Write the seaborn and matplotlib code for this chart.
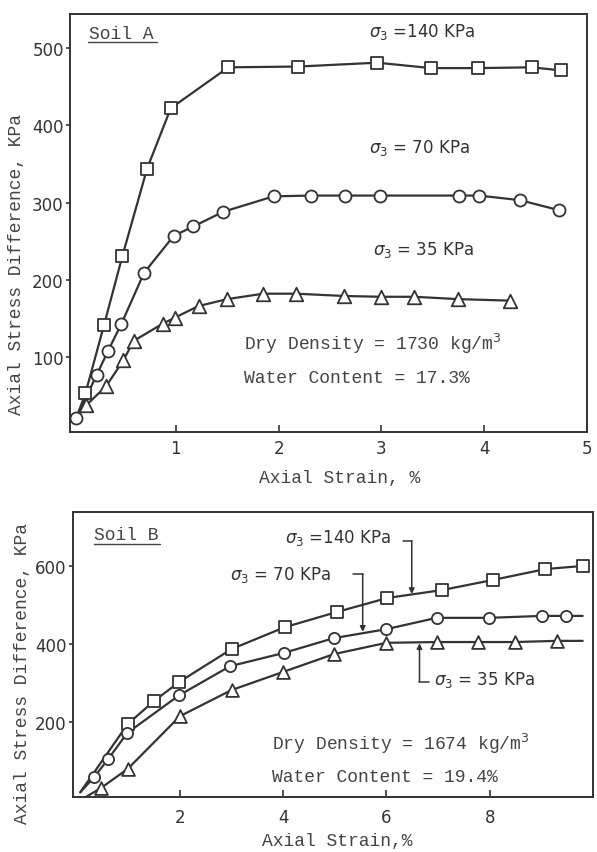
import seaborn as sns
import matplotlib.pyplot as plt
import pandas as pd

# ---- Soil A (top panel) ----
a_start = [0.03, 21]
a_x_140 = [0.12, 0.30, 0.48, 0.72, 0.95, 1.51, 2.19, 2.96, 3.48, 3.94, 4.46, 4.75]
a_y_140 = [53, 141, 231, 344, 422, 475, 476, 481, 474, 474, 475, 471]
a_x_70 = [0.03, 0.23, 0.34, 0.47, 0.69, 0.98, 1.17, 1.46, 1.95, 2.31, 2.65, 2.99, 3.75, 3.95, 4.35, 4.73]
a_y_70 = [21, 77, 108, 143, 209, 257, 269, 288, 308, 309, 309, 309, 309, 309, 303, 290]
a_x_35 = [0.13, 0.32, 0.49, 0.59, 0.87, 0.99, 1.22, 1.50, 1.85, 2.17, 2.64, 3.00, 3.32, 3.74, 4.25]
a_y_35 = [38, 62, 96, 121, 143, 151, 166, 175, 182, 182, 179, 178, 178, 175, 173]

# ---- Soil B (bottom panel) ----
b_start_140 = [0.07, 20]
b_start_70 = [0.07, 20]
b_start_35 = [0.18, 8]
b_end_70 = [9.8, 472]
b_end_35 = [9.8, 408]
b_x_140 = [0.99, 1.50, 1.99, 3.00, 4.03, 5.04, 6.02, 7.07, 8.06, 9.08, 9.80]
b_y_140 = [195, 254, 303, 387, 443, 482, 518, 538, 564, 592, 600]
b_x_70 = [0.34, 0.61, 0.98, 1.99, 2.97, 4.01, 4.98, 6.00, 6.97, 7.98, 9.02, 9.47]
b_y_70 = [59, 105, 172, 269, 343, 377, 415, 438, 467, 467, 472, 472]
b_x_35 = [0.47, 0.99, 2.00, 3.00, 3.99, 4.98, 6.00, 6.97, 7.78, 8.48, 9.30]
b_y_35 = [31, 80, 215, 282, 328, 374, 403, 405, 405, 405, 408]

a_xticks = [1, 2, 3, 4, 5]
a_yticks = [100, 200, 300, 400, 500]
b_xticks = [2, 4, 6, 8]
b_yticks = [200, 400, 600]

INK = "#333333"
TXT = "#444444"
MONO = ["Liberation Mono", "DejaVu Sans Mono"]
SANS = ["DejaVu Sans"]

sns.set_theme(style="ticks")
plt.rcParams["font.family"] = ["DejaVu Sans"]
plt.rcParams["mathtext.fontset"] = "dejavusans"

fig = plt.figure(figsize=(5.97, 8.53), dpi=100)
ax_a = fig.add_axes([0.1173, 0.4924, 0.866, 0.490])
ax_b = fig.add_axes([0.1223, 0.0645, 0.871, 0.334])


def draw_curve(ax, xs, ys, marker, size, pre=None, post=None):
    lx = ([pre[0]] if pre else []) + list(xs) + ([post[0]] if post else [])
    ly = ([pre[1]] if pre else []) + list(ys) + ([post[1]] if post else [])
    line_df = pd.DataFrame({"x": lx, "y": ly})
    sns.lineplot(data=line_df, x="x", y="y", ax=ax, color=INK, linewidth=1.6,
                 estimator=None, sort=False, zorder=2)
    pts = pd.DataFrame({"x": xs, "y": ys})
    sns.scatterplot(data=pts, x="x", y="y", ax=ax, marker=marker, s=size,
                    facecolor="white", edgecolor=INK, linewidth=1.3, zorder=3)


def style_axes(ax, xlim, ylim, xticks, yticks, xpad):
    ax.set_xlim(*xlim)
    ax.set_ylim(*ylim)
    ax.set_xticks(xticks)
    ax.set_yticks(yticks)
    ax.set_xlabel("")
    ax.set_ylabel("")
    for sp in ax.spines.values():
        sp.set_visible(True)
        sp.set_color(INK)
        sp.set_linewidth(1.4)
    ax.tick_params(axis="x", direction="in", length=5, width=1.2, color=INK,
                   pad=xpad, labelsize=12, labelcolor=INK)
    ax.tick_params(axis="y", direction="out", length=3, width=1.2, color=INK,
                   pad=1.5, labelsize=12, labelcolor=INK)
    ax.set_facecolor("white")


# ---- top panel ----
draw_curve(ax_a, a_x_140, a_y_140, "s", 85, pre=a_start)
draw_curve(ax_a, a_x_70, a_y_70, "o", 75)
draw_curve(ax_a, a_x_35, a_y_35, "^", 95, pre=a_start)
style_axes(ax_a, (-0.03, 5.0), (3, 544), a_xticks, a_yticks, 5)

ax_a.text(0.155, 513, "Soil A", family=MONO, fontsize=13, color=TXT)
ax_a.plot([0.035, 0.168], [0.933, 0.933], transform=ax_a.transAxes, color=TXT, lw=1.0)
ax_a.text(2.88, 515, r"$\sigma_3$ =140 KPa", family=SANS, fontsize=12, color=INK)
ax_a.text(2.88, 365, r"$\sigma_3$ = 70 KPa", family=SANS, fontsize=12, color=INK)
ax_a.text(2.92, 233, r"$\sigma_3$ = 35 KPa", family=SANS, fontsize=12, color=INK)
ax_a.text(1.66, 110, r"Dry Density = 1730 kg/m$^3$", family=MONO, fontsize=13, color=TXT)
ax_a.text(1.66, 68, "Water Content = 17.3%", family=MONO, fontsize=13, color=TXT)

# ---- bottom panel ----
draw_curve(ax_b, b_x_140, b_y_140, "s", 65, pre=b_start_140)
draw_curve(ax_b, b_x_70, b_y_70, "o", 65, pre=b_start_70, post=b_end_70)
draw_curve(ax_b, b_x_35, b_y_35, "^", 85, pre=b_start_35, post=b_end_35)
style_axes(ax_b, (-0.07, 10.0), (8, 738), b_xticks, b_yticks, 8)

ax_b.text(0.34, 669, "Soil B", family=MONO, fontsize=13, color=TXT)
ax_b.plot([0.040, 0.167], [0.888, 0.888], transform=ax_b.transAxes, color=TXT, lw=1.0)

arrow = dict(arrowstyle="-|>", color=INK, lw=1.1, shrinkA=0, shrinkB=0, mutation_scale=8)
ax_b.text(4.03, 661, r"$\sigma_3$ =140 KPa", family=SANS, fontsize=12, color=INK)
ax_b.plot([6.32, 6.49], [664, 664], color=INK, lw=1.1)
ax_b.annotate("", xy=(6.49, 528), xytext=(6.49, 664), arrowprops=arrow)

ax_b.text(2.97, 567, r"$\sigma_3$ = 70 KPa", family=SANS, fontsize=12, color=INK)
ax_b.plot([5.36, 5.54], [580, 580], color=INK, lw=1.1)
ax_b.annotate("", xy=(5.54, 431), xytext=(5.54, 580), arrowprops=arrow)

ax_b.text(6.92, 297, r"$\sigma_3$ = 35 KPa", family=SANS, fontsize=12, color=INK)
ax_b.plot([6.64, 6.82], [303, 303], color=INK, lw=1.1)
ax_b.annotate("", xy=(6.64, 402), xytext=(6.64, 303), arrowprops=arrow)

ax_b.text(3.78, 131, r"Dry Density = 1674 kg/m$^3$", family=MONO, fontsize=13, color=TXT)
ax_b.text(3.78, 49, "Water Content = 19.4%", family=MONO, fontsize=13, color=TXT)

# ---- axis titles ----
fig.text(0.027, 0.690, "Axial Stress Difference, KPa", rotation=90, ha="center", va="center",
         family=MONO, fontsize=13, color=TXT)
fig.text(0.037, 0.211, "Axial Stress Difference, KPa", rotation=90, ha="center", va="center",
         family=MONO, fontsize=13, color=TXT)
fig.text(0.5695, 0.4385, "Axial Strain, %", ha="center", va="center",
         family=MONO, fontsize=13, color=TXT)
fig.text(0.5645, 0.0130, "Axial Strain,%", ha="center", va="center",
         family=MONO, fontsize=13, color=TXT)

fig.savefig("out.png", dpi=100, facecolor="white")
